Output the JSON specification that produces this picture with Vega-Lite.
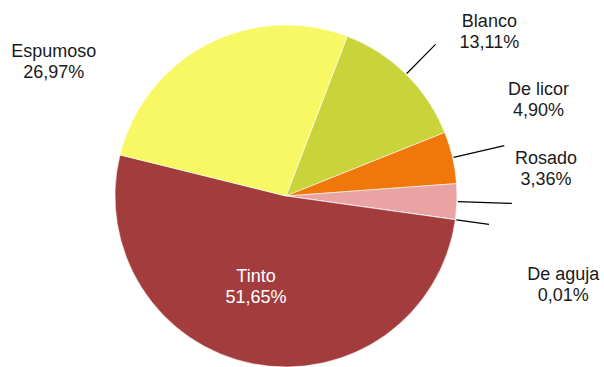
{
  "$schema": "https://vega.github.io/schema/vega-lite/v6.json",
  "width": 572,
  "height": 346,
  "autosize": {"type": "none"},
  "padding": {"left": 0, "top": 23, "right": 32, "bottom": 0},
  "background": "white",
  "view": {"stroke": null},
  "data": {
    "values": [
      {"tipo": "Blanco", "valor": 13.11, "orden": 1, "etiqueta": "Blanco\n13,11%"},
      {"tipo": "De licor", "valor": 4.90, "orden": 2, "etiqueta": "De licor\n4,90%"},
      {"tipo": "Rosado", "valor": 3.36, "orden": 3, "etiqueta": "Rosado\n3,36%"},
      {"tipo": "De aguja", "valor": 0.01, "orden": 4, "etiqueta": "De aguja\n0,01%"},
      {"tipo": "Tinto", "valor": 51.65, "orden": 5, "etiqueta": "Tinto\n51,65%"},
      {"tipo": "Espumoso", "valor": 26.97, "orden": 6, "etiqueta": "Espumoso\n26,97%"}
    ]
  },
  "encoding": {
    "theta": {"field": "valor", "type": "quantitative", "stack": true, "scale": {"range": [0.3665, 6.6497]}},
    "order": {"field": "orden", "type": "quantitative", "sort": "ascending"}
  },
  "layer": [
    {
      "mark": {"type": "arc", "radius": 171, "stroke": "#ffffff", "strokeWidth": 0.8, "strokeOpacity": 0.7},
      "encoding": {
        "color": {
          "field": "tipo", "type": "nominal", "legend": null,
          "scale": {
            "domain": ["Blanco", "De licor", "Rosado", "De aguja", "Tinto", "Espumoso"],
            "range": ["#C8D43A", "#F0780A", "#EAA3A3", "#8064A2", "#A33D3D", "#F8F764"]
          }
        }
      }
    },
    {
      "mark": {"type": "arc", "radius": 213, "radius2": 172, "padAngle": 3.1416, "fillOpacity": 0, "stroke": "#000000", "strokeWidth": 1.2},
      "encoding": {"strokeOpacity": {"condition": {"test": "datum.tipo === 'Blanco'", "value": 1}, "value": 0}}
    },
    {
      "mark": {"type": "arc", "radius": 224, "radius2": 172, "padAngle": 3.1416, "fillOpacity": 0, "stroke": "#000000", "strokeWidth": 1.2},
      "encoding": {"strokeOpacity": {"condition": {"test": "datum.tipo === 'De licor'", "value": 1}, "value": 0}}
    },
    {
      "mark": {"type": "arc", "radius": 226, "radius2": 172, "padAngle": 3.1416, "fillOpacity": 0, "stroke": "#000000", "strokeWidth": 1.2},
      "encoding": {"strokeOpacity": {"condition": {"test": "datum.tipo === 'Rosado'", "value": 1}, "value": 0}}
    },
    {
      "mark": {"type": "arc", "radius": 205, "radius2": 172, "padAngle": 3.1416, "fillOpacity": 0, "stroke": "#000000", "strokeWidth": 1.2},
      "encoding": {"strokeOpacity": {"condition": {"test": "datum.tipo === 'De aguja'", "value": 1}, "value": 0}}
    },
    {
      "mark": {"type": "text", "radius": 180, "dx": 77, "dy": -41, "align": "center", "baseline": "alphabetic", "lineBreak": "\n", "font": "Liberation Sans", "fontSize": 18, "lineHeight": 21, "fill": "#1a1a1a"},
      "encoding": {"text": {"condition": {"test": "datum.tipo === 'Blanco'", "field": "etiqueta"}, "value": ""}}
    },
    {
      "mark": {"type": "text", "radius": 180, "dx": 77, "dy": -61, "align": "center", "baseline": "alphabetic", "lineBreak": "\n", "font": "Liberation Sans", "fontSize": 18, "lineHeight": 21, "fill": "#1a1a1a"},
      "encoding": {"text": {"condition": {"test": "datum.tipo === 'De licor'", "field": "etiqueta"}, "value": ""}}
    },
    {
      "mark": {"type": "text", "radius": 180, "dx": 80, "dy": -38, "align": "center", "baseline": "alphabetic", "lineBreak": "\n", "font": "Liberation Sans", "fontSize": 18, "lineHeight": 21, "fill": "#1a1a1a"},
      "encoding": {"text": {"condition": {"test": "datum.tipo === 'Rosado'", "field": "etiqueta"}, "value": ""}}
    },
    {
      "mark": {"type": "text", "radius": 180, "dx": 99, "dy": 59, "align": "center", "baseline": "alphabetic", "lineBreak": "\n", "font": "Liberation Sans", "fontSize": 18, "lineHeight": 21, "fill": "#1a1a1a"},
      "encoding": {"text": {"condition": {"test": "datum.tipo === 'De aguja'", "field": "etiqueta"}, "value": ""}}
    },
    {
      "mark": {"type": "text", "radius": 100, "dx": -11, "dy": -12, "align": "center", "baseline": "alphabetic", "lineBreak": "\n", "font": "Liberation Sans", "fontSize": 18, "lineHeight": 21, "fill": "#ffffff"},
      "encoding": {"text": {"condition": {"test": "datum.tipo === 'Tinto'", "field": "etiqueta"}, "value": ""}}
    },
    {
      "mark": {"type": "text", "radius": 180, "dx": -149, "dy": 21, "align": "center", "baseline": "alphabetic", "lineBreak": "\n", "font": "Liberation Sans", "fontSize": 18, "lineHeight": 21, "fill": "#1a1a1a"},
      "encoding": {"text": {"condition": {"test": "datum.tipo === 'Espumoso'", "field": "etiqueta"}, "value": ""}}
    }
  ]
}
